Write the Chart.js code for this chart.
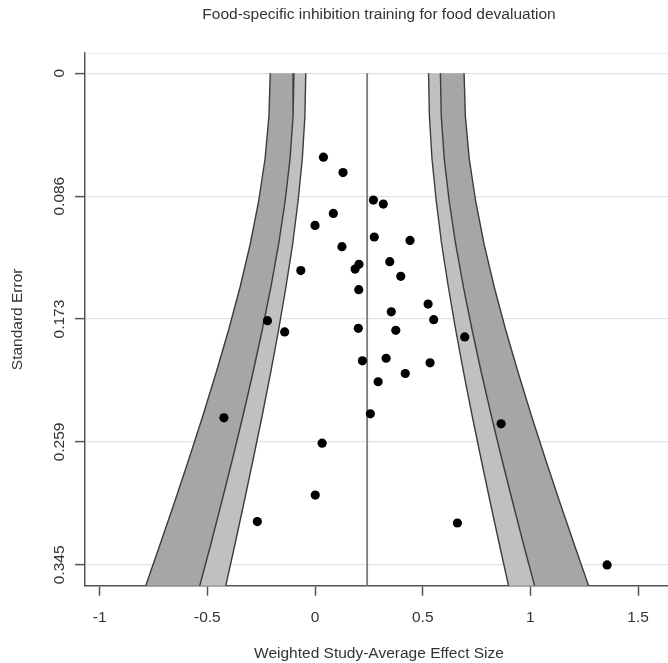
<!DOCTYPE html>
<html>
<head>
<meta charset="utf-8">
<script src="https://cdn.jsdelivr.net/npm/chart.js@4/dist/chart.umd.min.js"></script>
<style>
  html, body { margin: 0; padding: 0; overflow: hidden; background: #fff; }
  canvas { display: block; }
</style>
</head>
<body>
<!-- plot region runs a few px past the right edge of the 668px picture -->
<canvas id="funnel" width="673" height="663"></canvas>
<script>
// pooled (weighted study-average) effect, drawn as the centre line
const pooledEffect = 0.242;

// one entry per study
const effectSizes = [
  0.039, 0.130, 0.271, 0.317, 0.085, 0.000, 0.275, 0.441, 0.125, 0.204,
  0.186, -0.066, 0.347, 0.398, 0.203, 0.354, 0.525, 0.551, -0.221, 0.201,
  0.375, -0.141, 0.695, 0.330, 0.220, 0.534, 0.419, 0.293, -0.423, 0.257,
  0.864, 0.033, 0.001, -0.268, 0.661, 1.356
];
const standardErrors = [
  0.0589, 0.0697, 0.0890, 0.0918, 0.0984, 0.1068, 0.1149, 0.1173, 0.1217, 0.1341,
  0.1374, 0.1385, 0.1322, 0.1425, 0.1519, 0.1674, 0.1620, 0.1729, 0.1736, 0.1790,
  0.1804, 0.1815, 0.1850, 0.2000, 0.2018, 0.2032, 0.2107, 0.2165, 0.2418, 0.2390,
  0.2460, 0.2596, 0.2960, 0.3146, 0.3156, 0.3450
];

// contour half-widths around the pooled effect, read at these SE levels
const seLevels    = [0, 0.03, 0.06, 0.09, 0.12, 0.15, 0.18, 0.21, 0.24, 0.27, 0.30, 0.33, 0.36];
const halfWidth90 = [0.285, 0.289, 0.301, 0.321, 0.346, 0.377, 0.411, 0.448, 0.487, 0.528, 0.570, 0.613, 0.657];
const halfWidth95 = [0.340, 0.344, 0.358, 0.381, 0.411, 0.447, 0.487, 0.530, 0.576, 0.624, 0.674, 0.725, 0.778];
const halfWidth99 = [0.450, 0.456, 0.474, 0.504, 0.543, 0.590, 0.643, 0.701, 0.762, 0.826, 0.892, 0.960, 1.029];

const xTicks = [-1, -0.5, 0, 0.5, 1, 1.5];
const yTicks = [0, 0.08625, 0.1725, 0.25875, 0.345];
const yTickLabels = ["0", "0.086", "0.173", "0.259", "0.345"];

const FONT = "'Liberation Sans', Arial, Helvetica, sans-serif";
const FONT_SIZE = 15.5;
const TEXT = "#333";
const AXIS = "#555";
Chart.defaults.font.family = FONT;

const edge = (hw, sign) => seLevels.map((se, i) => ({ x: pooledEffect + sign * hw[i], y: se }));
const shape = (a, b) => a.concat(b.slice().reverse());

const left90 = edge(halfWidth90, -1), right90 = edge(halfWidth90, 1);
const left95 = edge(halfWidth95, -1), right95 = edge(halfWidth95, 1);
const left99 = edge(halfWidth99, -1), right99 = edge(halfWidth99, 1);

const DARK = "#a6a6a6";
const LIGHT = "#c0c0c0";

const bandSet = (data, color) => ({
  data, showLine: true, fill: "shape", backgroundColor: color,
  borderWidth: 0, borderColor: "rgba(0,0,0,0)", pointRadius: 0, clip: 0, order: 3
});
const edgeSet = (data) => ({
  data, showLine: true, fill: false, borderColor: "#3c3c3c",
  borderWidth: 1.4, pointRadius: 0, clip: 0, order: 2
});

// light top border, rotated y labels and y title (R style)
const rStyle = {
  id: "rStyle",
  beforeDatasetsDraw(chart) {
    const { ctx, chartArea } = chart;
    ctx.save();
    ctx.strokeStyle = "#ececec";
    ctx.lineWidth = 1.2;
    ctx.beginPath();
    ctx.moveTo(chartArea.left, chartArea.top + 0.5);
    ctx.lineTo(chartArea.right, chartArea.top + 0.5);
    ctx.stroke();
    ctx.restore();
  },
  afterDraw(chart) {
    const { ctx, chartArea, scales } = chart;
    ctx.save();
    ctx.fillStyle = TEXT;
    ctx.font = FONT_SIZE + "px " + FONT;
    ctx.textAlign = "center";
    ctx.textBaseline = "middle";
    yTicks.forEach((v, i) => {
      const py = scales.y.getPixelForValue(v);
      ctx.save();
      ctx.translate(60, py);
      ctx.rotate(-Math.PI / 2);
      ctx.fillText(yTickLabels[i], 0, 0);
      ctx.restore();
    });
    ctx.translate(18, (chartArea.top + chartArea.bottom) / 2);
    ctx.rotate(-Math.PI / 2);
    ctx.fillText("Standard Error", 0, 0);
    ctx.restore();
  }
};

new Chart(document.getElementById("funnel"), {
  type: "scatter",
  data: {
    datasets: [
      {
        data: effectSizes.map((x, i) => ({ x, y: standardErrors[i] })),
        backgroundColor: "#000", borderWidth: 0, pointRadius: 4.6, order: 0
      },
      {
        data: [{ x: pooledEffect, y: seLevels[0] }, { x: pooledEffect, y: seLevels[seLevels.length - 1] }],
        showLine: true, borderColor: "#7a7a7a", borderWidth: 1.8, pointRadius: 0, clip: 0, order: 1
      },
      edgeSet(left99), edgeSet(left95), edgeSet(left90),
      edgeSet(right90), edgeSet(right95), edgeSet(right99),
      bandSet(shape(left99, left95), DARK),
      bandSet(shape(left95, left90), LIGHT),
      bandSet(shape(right90, right95), LIGHT),
      bandSet(shape(right95, right99), DARK)
    ]
  },
  options: {
    responsive: false,
    animation: false,
    devicePixelRatio: 1,
    layout: { autoPadding: false, padding: { left: 75, right: 0, top: 0, bottom: 0 } },
    plugins: {
      legend: { display: false },
      tooltip: { enabled: false },
      title: {
        display: true,
        fullSize: false,
        text: "Food-specific inhibition training for food devaluation",
        color: TEXT,
        font: { size: FONT_SIZE, weight: "normal" },
        padding: { top: 5, bottom: 29.4 }
      }
    },
    scales: {
      x: {
        type: "linear",
        position: "bottom",
        min: -1.068,
        max: 1.662,
        border: { display: true, color: AXIS, width: 1.5 },
        grid: { display: true, drawOnChartArea: false, drawTicks: true, tickLength: 10, tickColor: AXIS, tickWidth: 1.5 },
        ticks: { color: TEXT, font: { size: FONT_SIZE }, padding: 13, autoSkip: false, maxRotation: 0, callback: (v) => String(v) },
        afterBuildTicks: (s) => { s.ticks = xTicks.map((v) => ({ value: v })); },
        afterFit: (s) => { s.height = 77.3; s.paddingLeft = 0; s.paddingRight = 0; },
        title: {
          display: true,
          text: "Weighted Study-Average Effect Size",
          color: TEXT,
          font: { size: FONT_SIZE },
          padding: { top: 0, bottom: 0 }
        }
      },
      y: {
        type: "linear",
        reverse: true,
        min: -0.0142,
        max: 0.3596,
        border: { display: true, color: AXIS, width: 1.5 },
        grid: { color: "#e2e2e2", lineWidth: 1.2, drawTicks: true, tickLength: 10, tickColor: AXIS, tickWidth: 1.5 },
        ticks: { display: false },
        afterBuildTicks: (s) => { s.ticks = yTicks.map((v) => ({ value: v })); },
        afterFit: (s) => { s.width = 10; }
      }
    }
  },
  plugins: [rStyle]
});
</script>
</body>
</html>
